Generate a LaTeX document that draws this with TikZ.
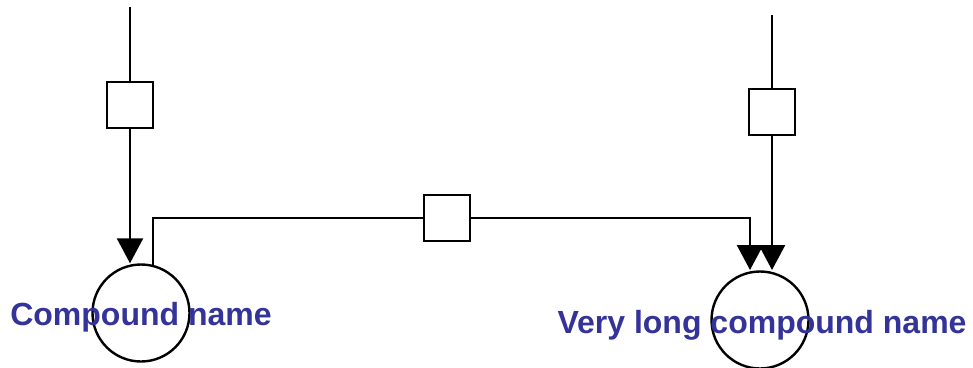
\documentclass[tikz,border=0pt]{standalone}
\usepackage{fontspec}
\newfontfamily\labfont{Liberation Sans}
\usetikzlibrary{arrows.meta}
\definecolor{labblue}{RGB}{51,51,153}
\tikzset{
  conn/.style={line width=2.4pt},
  arr/.style={conn,-{Triangle[length=25pt,width=26pt]}},
  sqbox/.style={draw,line width=2.4pt,minimum size=46pt,inner sep=0pt,fill=white},
  cpd/.style={draw,circle,line width=2.4pt,minimum size=97pt,inner sep=0pt},
  lab/.style={text=labblue,font=\labfont\bfseries\fontsize{32}{36}\selectfont,inner sep=0pt,anchor=base}
}
\begin{document}
\begin{tikzpicture}[x=1pt,y=-1pt]
\useasboundingbox (0,0) rectangle (973,367);
% compounds
\node[cpd] (c1) at (141,313) {};
\node[cpd] (c2) at (760,320) {};
% reaction boxes
\node[sqbox] (b1) at (130,105) {};
\node[sqbox] (b2) at (772,112) {};
\node[sqbox] (b3) at (447,218) {};
% free ends
\coordinate (t1) at (130,7);
\coordinate (t2) at (772,15);
\coordinate (s) at (153,266);
\coordinate (e) at (750,270);
% connectors
\draw[conn] (t1) -- (b1.north);
\draw[arr] (b1.south) -- (b1.south |- c1.north);
\draw[conn] (t2) -- (b2.north);
\draw[arr] (b2.south) -- (b2.south |- e);
\draw[conn] (s) |- (b3.west);
\draw[arr] (b3.east) -| (e);
% labels
\node[lab] (l1) at (141,325) {Compound name};
\node[lab] (l2) at (762,333) {Very long compound name};
\end{tikzpicture}
\end{document}
